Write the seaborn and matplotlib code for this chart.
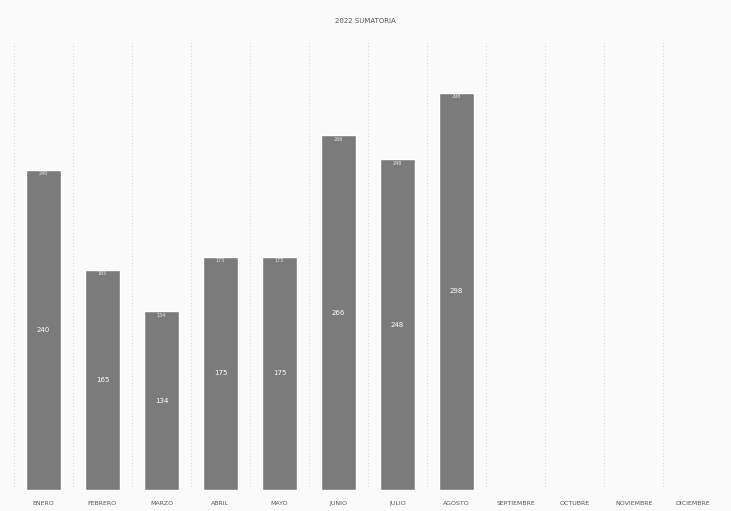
import matplotlib
matplotlib.use("Agg")
import matplotlib.pyplot as plt
import seaborn as sns
import pandas as pd

months = ["ENERO", "FEBRERO", "MARZO", "ABRIL", "MAYO", "JUNIO",
          "JULIO", "AGOSTO", "SEPTIEMBRE", "OCTUBRE", "NOVIEMBRE", "DICIEMBRE"]
values = [240, 165, 134, 175, 175, 266, 248, 298, 0, 0, 0, 0]

df = pd.DataFrame({"mes": months, "valor": values})

sns.set_style("white")
fig = plt.figure(figsize=(7.31, 5.11), dpi=100)
fig.patch.set_facecolor("#fafafa")
ax = fig.add_axes([0.019, 0.041, 0.969, 0.881])
ax.set_facecolor("#fafafa")

sns.barplot(data=df, x="mes", y="valor", color="#7b7b7b", width=0.58,
            saturation=1, ax=ax)

# faint dotted separators between months
for i in range(len(months) + 1):
    ax.axvline(i - 0.5, color="#c8c8c8", lw=0.6, ls=(0, (1, 3)), zorder=0)

for i, v in enumerate(values):
    if v > 0:
        ax.text(i, v / 2, str(v), ha="center", va="center", color="white",
                fontsize=5)
        ax.text(i, v - 3, str(v), ha="center", va="center", color="#e6e6e6",
                fontsize=3.5)

ax.set_ylim(0, 337.5)
ax.set_xlim(-0.5, len(months) - 0.5)
ax.set_yticks([])
ax.set_xlabel("")
ax.set_ylabel("")
ax.tick_params(axis="x", length=0, labelsize=4.5, labelcolor="#555555", pad=8)
for s in ax.spines.values():
    s.set_visible(False)

fig.suptitle("2022 SUMATORIA", y=0.965, fontsize=5, color="#555555")
fig.savefig("out.png", dpi=100)
